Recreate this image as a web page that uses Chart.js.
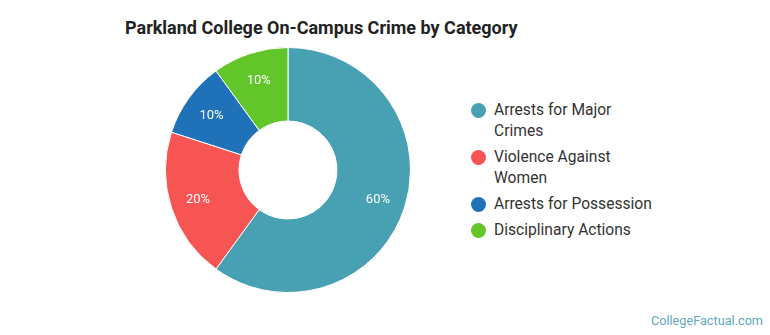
<!DOCTYPE html>
<html>
<head>
<meta charset="utf-8">
<script src="https://cdn.jsdelivr.net/npm/chart.js@4/dist/chart.umd.min.js"></script>
<style>
  body { margin: 0; width: 770px; height: 335px; background: #fff; font-family: Roboto, sans-serif; position: relative; overflow: hidden; }
  #title { position: absolute; left: 125px; top: 17px; font-size: 18px; font-weight: bold; color: #222; }
  #chartBox { position: absolute; left: 165px; top: 47px; width: 246px; height: 246px; }
  #legend { position: absolute; left: 470px; top: 100px; font-size: 15.6px; color: #333; line-height: 21px; }
  .item { position: relative; padding-left: 24px; margin-bottom: 5px; }
  .dot { position: absolute; left: 1px; top: 3px; width: 15px; height: 15px; border-radius: 50%; }
  #credit { position: absolute; right: 7px; top: 313px; font-size: 12.7px; color: #5fa8bd; }
</style>
</head>
<body>
<div id="title">Parkland College On-Campus Crime by Category</div>
<div id="chartBox"><canvas id="crimeChart"></canvas></div>
<div id="legend"></div>
<div id="credit">CollegeFactual.com</div>
<script>
const categories = ['Arrests for Major Crimes', 'Violence Against Women', 'Arrests for Possession', 'Disciplinary Actions'];
const legendLines = [['Arrests for Major', 'Crimes'], ['Violence Against', 'Women'], ['Arrests for Possession'], ['Disciplinary Actions']];
const shares = [60, 20, 10, 10];
const sliceColors = ['#48a0b3', '#f75454', '#1f72b8', '#62c62b'];

// legend
const legendEl = document.getElementById('legend');
legendLines.forEach((lines, i) => {
    const div = document.createElement('div');
    div.className = 'item';
    div.innerHTML = '<span class="dot" style="background:' + sliceColors[i] + '"></span>' + lines.join('<br>');
    legendEl.appendChild(div);
});

// percent labels inside slices
const sliceLabels = {
    id: 'sliceLabels',
    afterDatasetsDraw(chart) {
        const ctx = chart.ctx;
        const meta = chart.getDatasetMeta(0);
        ctx.save();
        ctx.font = '13px Roboto';
        ctx.fillStyle = '#fff';
        ctx.textAlign = 'center';
        ctx.textBaseline = 'middle';
        meta.data.forEach((arc, i) => {
            const p = arc.getProps(['x', 'y', 'startAngle', 'endAngle', 'innerRadius', 'outerRadius'], true);
            const a = (p.startAngle + p.endAngle) / 2;
            const r = p.innerRadius + (p.outerRadius - p.innerRadius) * 0.62;
            ctx.fillText(shares[i] + '%', p.x + Math.cos(a) * r, p.y + Math.sin(a) * r + 1);
        });
        ctx.restore();
    }
};

const ctxCrime = document.getElementById('crimeChart').getContext('2d');
const doughnut = new Chart(ctxCrime, {
    type: 'doughnut',
    data: {
        labels: categories,
        datasets: [{
            data: shares,
            backgroundColor: sliceColors,
            borderColor: '#fff',
            borderWidth: 1,
            hoverOffset: 0
        }]
    },
    options: {
        responsive: true,
        maintainAspectRatio: false,
        animation: false,
        cutout: '40%',
        plugins: {
            legend: { display: false },
            tooltip: { enabled: false }
        }
    },
    plugins: [sliceLabels]
});
</script>
</body>
</html>
